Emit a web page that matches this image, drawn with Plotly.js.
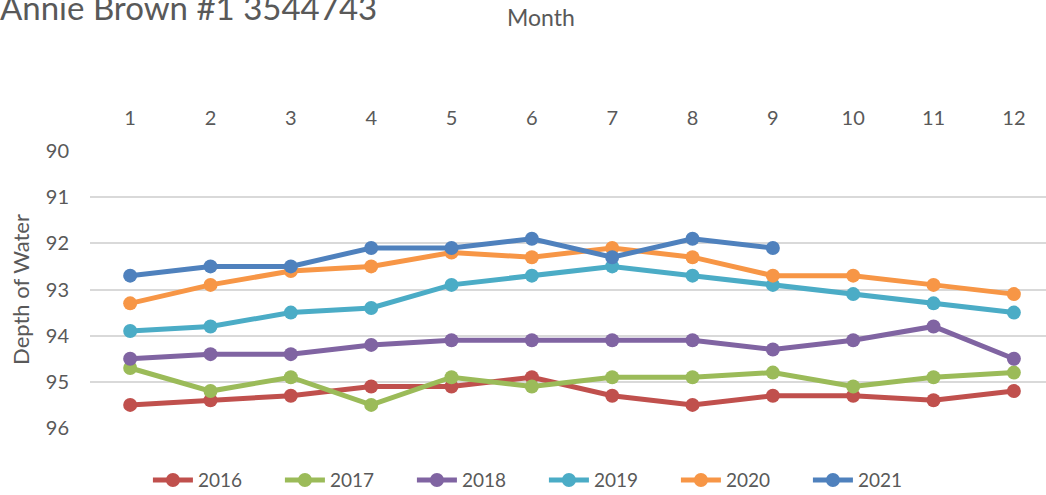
<!DOCTYPE html>
<html>
<head>
<meta charset="utf-8">
<script src="https://cdn.plot.ly/plotly-3.0.1.min.js"></script>
<style>
html,body{margin:0;padding:0;background:#fff;overflow:hidden;}
#chart{width:1046px;height:495px;}
</style>
</head>
<body>
<div id="chart"></div>
<script>
const months = [1,2,3,4,5,6,7,8,9,10,11,12];
const monthLabels = ["1","2","3","4","5","6","7","8","9","10","11","12"];
const years = ["2016","2017","2018","2019","2020","2021"];
const y2016 = [95.5,95.4,95.3,95.1,95.1,94.9,95.3,95.5,95.3,95.3,95.4,95.2];
const y2017 = [94.7,95.2,94.9,95.5,94.9,95.1,94.9,94.9,94.8,95.1,94.9,94.8];
const y2018 = [94.5,94.4,94.4,94.2,94.1,94.1,94.1,94.1,94.3,94.1,93.8,94.5];
const y2019 = [93.9,93.8,93.5,93.4,92.9,92.7,92.5,92.7,92.9,93.1,93.3,93.5];
const y2020 = [93.3,92.9,92.6,92.5,92.2,92.3,92.1,92.3,92.7,92.7,92.9,93.1];
const y2021 = [92.7,92.5,92.5,92.1,92.1,91.9,92.3,91.9,92.1];
const yTicks = [90,91,92,93,94,95,96];
const colors = ["#C0504D","#9BBB59","#8064A2","#4BACC6","#F79646","#4F81BD"];
const series = [y2016,y2017,y2018,y2019,y2020,y2021];

const FONT = "Lato, 'Open Sans', sans-serif";
const TXT = "#595959";

const traces = series.map((vals, i) => ({
  type: "scatter",
  mode: "lines+markers",
  name: years[i],
  x: months.slice(0, vals.length),
  y: vals,
  line: {color: colors[i], width: 5},
  marker: {color: colors[i], size: 14}
}));

const layout = {
  width: 1046,
  height: 495,
  margin: {l: 90, r: 0, t: 151, b: 67},
  paper_bgcolor: "#fff",
  plot_bgcolor: "#fff",
  font: {family: FONT, color: TXT},
  title: {
    text: "Annie Brown #1 3544743",
    font: {family: FONT, size: 33, color: TXT},
    xref: "container", x: 0, xanchor: "left",
    yref: "container", y: 0.982, yanchor: "middle"
  },
  xaxis: {
    side: "top",
    range: [0.5, 12.4],
    tickvals: months,
    ticktext: monthLabels,
    showgrid: false,
    zeroline: false,
    showline: false,
    ticks: "",
    ticklabelstandoff: 21,
    tickfont: {family: FONT, size: 20, color: TXT}
  },
  yaxis: {
    range: [96, 90],
    tickvals: yTicks,
    ticks: "",
    showgrid: true,
    gridcolor: "#D9D9D9",
    gridwidth: 2,
    zeroline: false,
    showline: false,
    ticklabelstandoff: 20,
    tickfont: {family: FONT, size: 20, color: TXT},
    title: {text: "Depth of Water", font: {family: FONT, size: 22, color: TXT}, standoff: 10}
  },
  annotations: [{
    text: "Month",
    xref: "paper", yref: "paper",
    x: (541 - 90) / 956, y: 1 + (151 - 17) / 277,
    xanchor: "center", yanchor: "middle",
    showarrow: false,
    font: {family: FONT, size: 23, color: TXT}
  }],
  showlegend: true,
  legend: {
    orientation: "h",
    xref: "container", x: 0.52, xanchor: "center",
    yref: "container", y: 0.03, yanchor: "middle",
    font: {family: FONT, size: 19, color: TXT},
    entrywidth: 77,
    itemwidth: 40
  }
};

Plotly.newPlot("chart", traces, layout, {displayModeBar: false, staticPlot: true});
</script>
</body>
</html>
